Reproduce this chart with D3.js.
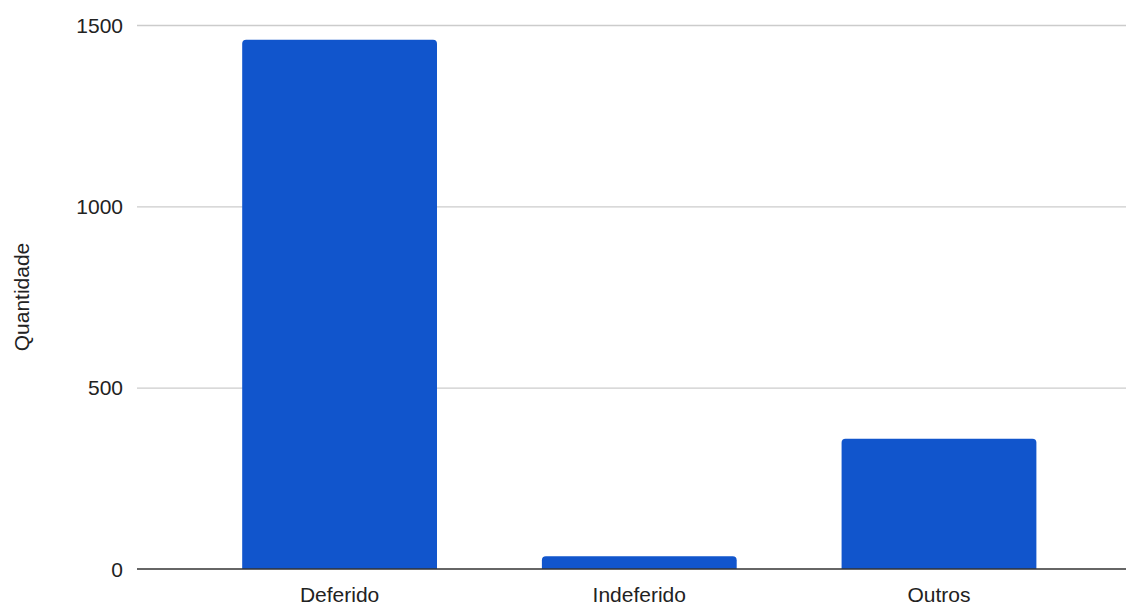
<!DOCTYPE html>
<html>
<head>
<meta charset="utf-8">
<script src="https://cdn.jsdelivr.net/npm/d3@7"></script>
<style>
  body { margin: 0; background: #fff; }
  svg text { font-family: "Liberation Sans", Arial, sans-serif; fill: #222; }
</style>
</head>
<body>
<div id="chart"></div>
<script>
// dados
const categorias = ['Deferido', 'Indeferido', 'Outros'];
const quantidades = [1459, 35, 359];
const ticksY = [0, 500, 1000, 1500];

const width = 1126;
const height = 605;
const margin = {top: 25, right: 0, bottom: 36, left: 137};

const svg = d3.select('#chart')
    .append('svg')
    .attr('width', width)
    .attr('height', height);

const x = d3.scaleBand()
    .domain(categorias)
    .range([margin.left, width - margin.right])
    .paddingInner(0.35)
    .paddingOuter(0.325)
    .align(0.54);

const y = d3.scaleLinear()
    .domain([0, 1500])
    .range([height - margin.bottom, margin.top]);

// linhas de grade
svg.append('g')
    .selectAll('line')
    .data(ticksY.filter(t => t > 0))
    .enter().append('line')
    .attr('x1', margin.left)
    .attr('x2', width - margin.right)
    .attr('y1', d => y(d) + 0.5)
    .attr('y2', d => y(d) + 0.5)
    .attr('stroke', '#cccccc')
    .attr('stroke-width', 1.3);

// rótulos do eixo y
svg.append('g')
    .selectAll('text')
    .data(ticksY)
    .enter().append('text')
    .attr('x', 123)
    .attr('y', d => y(d))
    .attr('dy', '0.36em')
    .attr('text-anchor', 'end')
    .style('font-size', '21px')
    .text(d => d);

// barras com cantos superiores arredondados
const r = 4;
svg.append('g')
    .selectAll('path')
    .data(categorias.map((c, i) => ({c, v: quantidades[i]})))
    .enter().append('path')
    .attr('fill', '#1155cc')
    .attr('d', d => {
        const x0 = x(d.c), x1 = x0 + x.bandwidth();
        const y0 = y(0), y1 = y(d.v);
        return `M${x0},${y0}V${y1 + r}Q${x0},${y1} ${x0 + r},${y1}H${x1 - r}Q${x1},${y1} ${x1},${y1 + r}V${y0}Z`;
    });

// linha base
svg.append('line')
    .attr('x1', margin.left)
    .attr('x2', width - margin.right)
    .attr('y1', y(0))
    .attr('y2', y(0))
    .attr('stroke', '#333')
    .attr('stroke-width', 1.6);

// rótulos do eixo x
svg.append('g')
    .selectAll('text')
    .data(categorias)
    .enter().append('text')
    .attr('x', d => x(d) + x.bandwidth() / 2)
    .attr('y', 602)
    .attr('text-anchor', 'middle')
    .style('font-size', '21px')
    .text(d => d);

// título do eixo y
svg.append('text')
    .attr('transform', `translate(29, ${(y(0) + y(1500)) / 2}) rotate(-90)`)
    .attr('text-anchor', 'middle')
    .style('font-size', '21px')
    .text('Quantidade');
</script>
</body>
</html>
